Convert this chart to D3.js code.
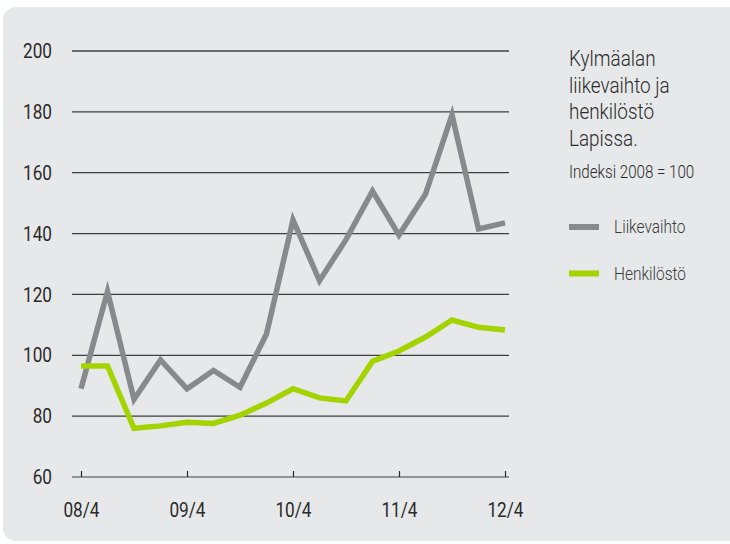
<!DOCTYPE html>
<html>
<head>
<meta charset="utf-8">
<script src="https://cdn.jsdelivr.net/npm/d3@7"></script>
<style>
  html, body { margin: 0; padding: 0; background: #ffffff; }
  svg { display: block; }
  text { font-family: Roboto, "Liberation Sans", sans-serif; }
</style>
</head>
<body>
<svg id="chart" width="730" height="544"></svg>
<script>
// ---- Data ----
const quarters = ["08/4","09/1","09/2","09/3","09/4","10/1","10/2","10/3","10/4","11/1","11/2","11/3","11/4","12/1","12/2","12/3","12/4"];
const tickLabels = ["08/4","09/4","10/4","11/4","12/4"];
const liikevaihto = [89, 121, 85.5, 98.5, 89, 95, 89.5, 107, 144.5, 124.5, 138, 154, 139.5, 153, 179, 141.5, 143.5];
const henkilosto = [96.5, 96.5, 76, 76.8, 78, 77.6, 80.3, 84.3, 89, 86, 85, 98, 101.4, 106, 111.6, 109.2, 108.3];
const yTicks = [60, 80, 100, 120, 140, 160, 180, 200];
const titleLines = ["Kylmäalan", "liikevaihto ja", "henkilöstö", "Lapissa."];
const subtitle = "Indeksi 2008 = 100";
const seriesNames = ["Liikevaihto", "Henkilöstö"];
const seriesColors = ["#87898d", "#a3d300"];

const SX = 0.86; // horizontal condensing to mimic a condensed face

// ---- Setup ----
const svg = d3.select("#chart");
svg.append("rect").attr("x", 3).attr("y", 7).attr("width", 760).attr("height", 534)
  .attr("rx", 13).attr("ry", 13).attr("fill", "#e7e8e9");

const x = d3.scalePoint().domain(quarters).range([81, 505]);
const y = d3.scaleLinear().domain([60, 200]).range([477, 51]);
const gridX0 = 72, gridX1 = 509;

// gridlines
svg.append("g").selectAll("line").data(yTicks).join("line")
  .attr("x1", gridX0).attr("x2", gridX1)
  .attr("y1", d => y(d)).attr("y2", d => y(d))
  .attr("stroke", d => d === 60 ? "#77787a" : "#3e3f41")
  .attr("stroke-width", d => d === 60 ? 1.6 : 1.3);

// y labels
svg.append("g").selectAll("text").data(yTicks).join("text")
  .attr("transform", d => `translate(52,${y(d)}) scale(${SX},1)`)
  .attr("dy", "0.36em")
  .attr("text-anchor", "end").attr("font-size", 20).attr("fill", "#2a2a2a")
  .text(d => d);

// x axis ticks + labels
const xAxis = d3.axisBottom(x).tickValues(tickLabels).tickSize(-6).tickSizeOuter(0).tickPadding(0);
const gx = svg.append("g").attr("transform", `translate(0,${y(60)})`).call(xAxis);
gx.select(".domain").remove();
gx.selectAll(".tick line").attr("stroke", "#2a2a2a").attr("stroke-width", 1.2);
gx.selectAll(".tick text")
  .attr("y", null).attr("dy", null)
  .attr("transform", `translate(0,40) scale(${SX},1)`)
  .attr("font-size", 20).attr("fill", "#2a2a2a")
  .attr("font-family", "Roboto, sans-serif");

// lines
const line = d3.line().x((d, i) => x(quarters[i])).y(d => y(d)).curve(d3.curveLinear);
[liikevaihto, henkilosto].forEach((s, k) => {
  svg.append("path").datum(s).attr("d", line)
    .attr("fill", "none").attr("stroke", seriesColors[k])
    .attr("stroke-width", 5.5).attr("stroke-linejoin", "miter").attr("stroke-miterlimit", 4);
});

// title
titleLines.forEach((t, i) => {
  svg.append("text")
    .attr("transform", `translate(569,${66 + i * 26.7}) scale(${SX},1)`)
    .attr("font-size", 22).attr("font-weight", 300).attr("fill", "#2a2a2a").text(t);
});
svg.append("text")
  .attr("transform", `translate(569,178) scale(${SX},1)`)
  .attr("font-size", 17.6).attr("font-weight", 300).attr("fill", "#2a2a2a").text(subtitle);

// legend
const leg = svg.append("g");
seriesNames.forEach((n, k) => {
  const cy = 227 + k * 46.5;
  leg.append("line").attr("x1", 569).attr("x2", 599).attr("y1", cy).attr("y2", cy)
    .attr("stroke", seriesColors[k]).attr("stroke-width", 6);
  leg.append("text")
    .attr("transform", `translate(614,${cy}) scale(${SX},1)`)
    .attr("dy", "0.36em")
    .attr("font-size", 18).attr("font-weight", 300).attr("fill", "#3a3a3a").text(n);
});
</script>
</body>
</html>
